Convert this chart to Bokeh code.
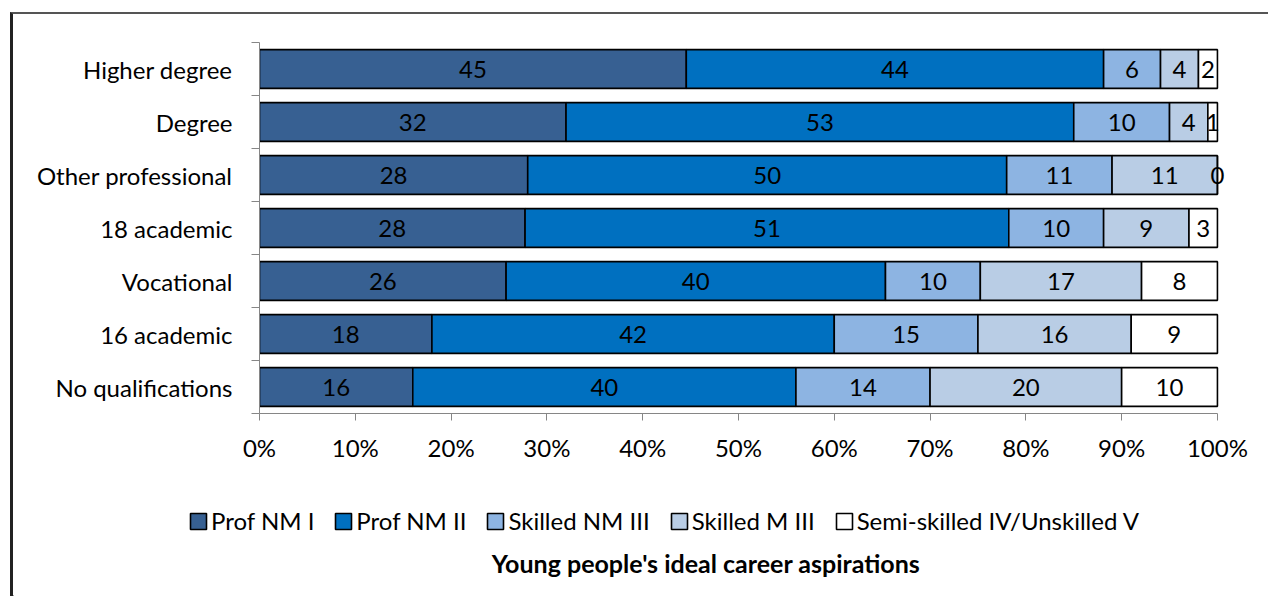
from bokeh.plotting import figure
from bokeh.layouts import column, row
from bokeh.models import FixedTicker, Legend, LegendItem, Label, NumeralTickFormatter
from bokeh.core.properties import value
from bokeh.embed import file_html
from bokeh.resources import INLINE

# Qualification groups, listed top to bottom
categories = ["Higher degree", "Degree", "Other professional", "18 academic",
              "Vocational", "16 academic", "No qualifications"]

# Ideal career aspiration shares (%) per group
prof_nm_1 = [45, 32, 28, 28, 26, 18, 16]
prof_nm_2 = [44, 53, 50, 51, 40, 42, 40]
skilled_nm_3 = [6, 10, 11, 10, 10, 15, 14]
skilled_m_3 = [4, 4, 11, 9, 17, 16, 20]
semi_unskilled = [2, 1, 0, 3, 8, 9, 10]

series_names = ["Prof NM I", "Prof NM II", "Skilled NM III", "Skilled M III",
                "Semi-skilled IV/Unskilled V"]
series_values = [prof_nm_1, prof_nm_2, skilled_nm_3, skilled_m_3, semi_unskilled]
colors = ["#376092", "#0070C0", "#8DB4E2", "#B9CDE5", "#FFFFFF"]

x_ticks = [0.0, 0.1, 0.2, 0.3, 0.4, 0.5, 0.6, 0.7, 0.8, 0.9, 1.0]
title_text = "Young people's ideal career aspirations"

FONT = "Lato"
FS = "24px"
GREY = "#868686"
W = 1255

n = len(categories)
y_centers = [n - i - 0.5 for i in range(n)]
totals = [sum(s[i] for s in series_values) for i in range(n)]

# ---- main chart -------------------------------------------------------
# a little room past 100% so end labels are not cut by the frame
p = figure(width=W, height=466, x_range=(0, 1.0105), y_range=(0, n),
           output_backend="svg", toolbar_location=None,
           min_border_left=246, min_border_right=41,
           min_border_top=28, min_border_bottom=67)
p.outline_line_color = None
p.xgrid.visible = False
p.ygrid.visible = False

# 100% stacked bars, normalised per group
cum = [0.0] * n
for name, vals, col in zip(series_names, series_values, colors):
    lefts = [cum[i] / totals[i] for i in range(n)]
    rights = [(cum[i] + vals[i]) / totals[i] for i in range(n)]
    p.hbar(y=y_centers, left=lefts, right=rights, height=0.73,
           fill_color=col, line_color="black", line_width=1.6)
    mids = [(a + b) / 2 for a, b in zip(lefts, rights)]
    p.text(x=mids, y=y_centers, text=[str(v) for v in vals],
           text_align="center", text_baseline="middle",
           text_font=value(FONT), text_font_size=FS, text_color="black")
    cum = [cum[i] + vals[i] for i in range(n)]

# x axis: percentage scale
xa = p.xaxis[0]
xa.bounds = (0, 1)
xa.ticker = FixedTicker(ticks=x_ticks, minor_ticks=[])
xa.formatter = NumeralTickFormatter(format="0%")
xa.axis_line_color = GREY
xa.major_tick_line_color = GREY
xa.major_tick_out = 7
xa.major_tick_in = 0
xa.minor_tick_line_color = None
xa.major_label_text_font = FONT
xa.major_label_text_font_size = FS
xa.major_label_text_color = "black"
xa.major_label_standoff = 12

# y axis: category names at bar centres, ticks at the gaps between bars
ya = p.yaxis[0]
ya.ticker = FixedTicker(ticks=y_centers, minor_ticks=list(range(n + 1)))
ya.major_label_overrides = {y: c for y, c in zip(y_centers, categories)}
ya.axis_line_color = GREY
ya.major_tick_line_color = None
ya.major_tick_out = 0
ya.major_tick_in = 0
ya.minor_tick_line_color = GREY
ya.minor_tick_out = 8
ya.minor_tick_in = 0
ya.major_label_text_font = FONT
ya.major_label_text_font_size = FS
ya.major_label_text_color = "black"
ya.major_label_standoff = 19

# ---- legend and caption strip (data units = page pixels) ----------------
y_top, y_bot = 480, 596
p2 = figure(width=W, height=y_bot - y_top, x_range=(1268 - W, 1268),
            y_range=(y_bot, y_top), output_backend="svg", toolbar_location=None,
            min_border=0)
p2.axis.visible = False
p2.grid.visible = False
p2.outline_line_color = None

# legend swatches: one off-screen bar per series so the legend has a glyph
items = []
for name, col in zip(series_names, colors):
    r = p2.hbar(y=[y_bot + 100], left=[0], right=[1], height=1, fill_color=col,
                line_color="black", line_width=1.6)
    items.append(LegendItem(label=name, renderers=[r], index=0))

legend = Legend(items=items, orientation="horizontal", location=(175, 61),
                glyph_width=20, glyph_height=20, label_height=20,
                label_standoff=3, spacing=19, padding=0, margin=0,
                border_line_color=None, background_fill_alpha=0,
                label_text_font=FONT, label_text_font_size=FS,
                label_text_color="black")
p2.add_layout(legend)

p2.add_layout(Label(x=705.5, y=562, text=title_text, text_align="center",
                    text_baseline="middle", text_font=FONT, text_font_size="25px",
                    text_font_style="bold", text_color="black"))

page = column(p, row(p2), spacing=0,
              styles={"margin-left": "10px", "margin-top": "12px",
                      "border-left": "3px solid #222222",
                      "border-top": "2px solid #555555"})

open("out.html", "w").write(file_html(page, INLINE))
